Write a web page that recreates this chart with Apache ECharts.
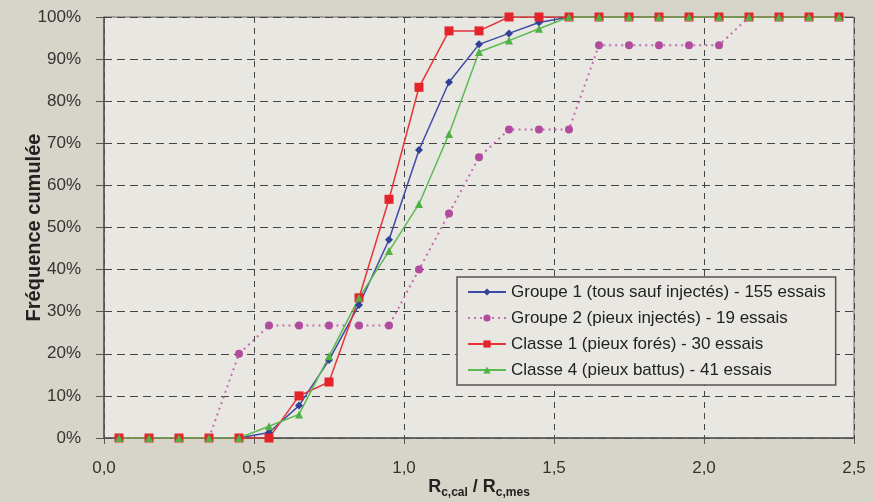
<!DOCTYPE html>
<html>
<head>
<meta charset="utf-8">
<script src="https://cdn.jsdelivr.net/npm/echarts@6/dist/echarts.min.js"></script>
<style>
html,body{margin:0;padding:0;background:#d7d4c9;}
#c{width:874px;height:502px;}
</style>
</head>
<body>
<div id="c"></div>
<script>
var xValues = [0.05,0.15,0.25,0.35,0.45,0.55,0.65,0.75,0.85,0.95,1.05,1.15,1.25,1.35,1.45,1.55,1.65,1.75,1.85,1.95,2.05,2.15,2.25,2.35,2.45];
var groupe1 = [0,0,0,0,0,1.3,7.7,18.5,31.6,47.1,68.4,84.5,93.5,96.1,98.7,100,100,100,100,100,100,100,100,100,100];
var groupe2 = [0,0,0,0,20,26.7,26.7,26.7,26.7,26.7,40,53.3,66.7,73.3,73.3,73.3,93.3,93.3,93.3,93.3,93.3,100,100,100,100];
var classe1 = [0,0,0,0,0,0,10,13.3,33.3,56.7,83.3,96.7,96.7,100,100,100,100,100,100,100,100,100,100,100,100];
var classe4 = [0,0,0,0,0,2.8,5.6,19.4,33.3,44.4,55.6,72.2,91.7,94.4,97.2,100,100,100,100,100,100,100,100,100,100];
var seriesNames = [
  'Groupe 1 (tous sauf injectés) - 155 essais',
  'Groupe 2 (pieux injectés) - 19 essais',
  'Classe 1 (pieux forés) - 30 essais',
  'Classe 4 (pieux battus) - 41 essais'
];
var xTicks = {min:0, max:2.5, interval:0.5};
var yTicks = {min:0, max:100, interval:10};

function pairs(vals){ return xValues.map(function(x,i){ return [x, vals[i]]; }); }

var chart = echarts.init(document.getElementById('c'));
var font = 'Liberation Sans, Arial, sans-serif';
chart.setOption({
  backgroundColor:'#d7d4c9',
  animation:false,
  textStyle:{fontFamily:font},
  grid:{left:104,right:20,top:17,bottom:64,containLabel:false,outerBoundsMode:'none',
        show:true,backgroundColor:'#e9e7e1',borderColor:'#6a6a6a',borderWidth:1},
  xAxis:{
    type:'value', min:xTicks.min, max:xTicks.max, interval:xTicks.interval,
    axisLine:{show:true,onZero:false,lineStyle:{color:'#555',width:1.5}},
    axisTick:{show:true,inside:false,length:6,lineStyle:{color:'#555'}},
    axisLabel:{color:'#333',fontSize:17,margin:22,fontFamily:font,
      formatter:function(v){return v.toFixed(1).replace('.',',');}},
    splitLine:{show:true,lineStyle:{color:'#444',type:[6,5],width:1}},
    name:'{b|R}{s|c,cal}{b| / R}{s|c,mes}',
    nameLocation:'middle', nameGap:38, nameMoveOverlap:false,
    nameTextStyle:{rich:{
      b:{fontSize:18,fontWeight:'bold',color:'#222',fontFamily:font,verticalAlign:'bottom',lineHeight:20},
      s:{fontSize:12,fontWeight:'bold',color:'#222',fontFamily:font,verticalAlign:'bottom',lineHeight:15,padding:[0,0,-3,0]}
    }}
  },
  yAxis:{
    type:'value', min:yTicks.min, max:yTicks.max, interval:yTicks.interval,
    axisLine:{show:true,lineStyle:{color:'#555',width:1.5}},
    axisTick:{show:true,length:8,lineStyle:{color:'#555'}},
    axisLabel:{color:'#333',fontSize:17,margin:23,fontFamily:font,formatter:'{value}%'},
    splitLine:{show:true,lineStyle:{color:'#444',type:[8,5],width:1}},
    name:'Fréquence cumulée', nameLocation:'middle', nameGap:60, nameRotate:90, nameMoveOverlap:false,
    nameTextStyle:{fontSize:20,fontWeight:'bold',color:'#222',fontFamily:font}
  },
  legend:{
    orient:'vertical', left:457, top:277,
    backgroundColor:'#e9e7e1', borderColor:'#555', borderWidth:1.5,
    padding:[6,10,6,10], itemGap:8, itemWidth:38, itemHeight:9,
    textStyle:{fontSize:17,lineHeight:18,color:'#222',fontFamily:font},
    data:seriesNames
  },
  series:[
    {name:seriesNames[0],type:'line',data:pairs(groupe1),symbol:'diamond',symbolSize:8,
     itemStyle:{color:'#33409a'},lineStyle:{color:'#3f4aa5',width:1.5}},
    {name:seriesNames[1],type:'line',data:pairs(groupe2),symbol:'circle',symbolSize:8,
     itemStyle:{color:'#b04b9e'},lineStyle:{color:'#c46bb3',width:2,type:[2,4]}},
    {name:seriesNames[2],type:'line',data:pairs(classe1),symbol:'rect',symbolSize:9,
     itemStyle:{color:'#e5232a'},lineStyle:{color:'#e5353a',width:1.5}},
    {name:seriesNames[3],type:'line',data:pairs(classe4),symbol:'triangle',symbolSize:8,
     itemStyle:{color:'#4fb146'},lineStyle:{color:'#5bbb50',width:1.5}}
  ]
});
</script>
</body>
</html>
